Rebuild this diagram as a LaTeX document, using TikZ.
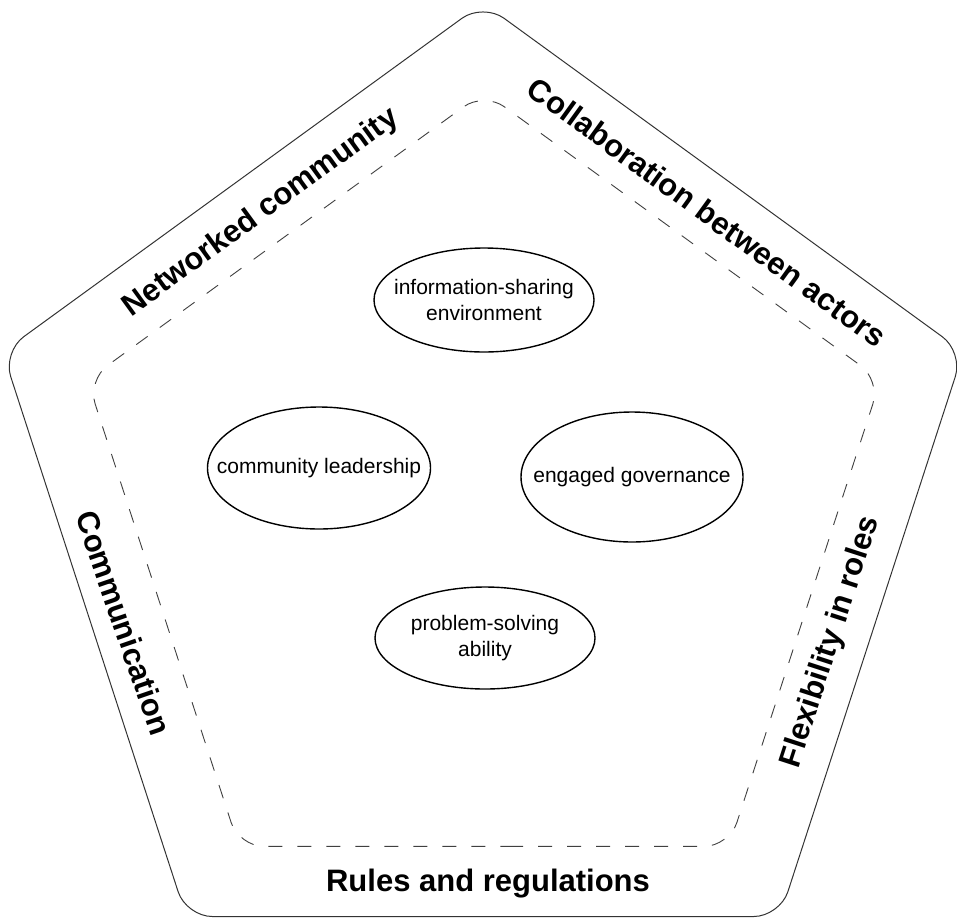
\documentclass[tikz,border=0pt]{standalone}
\usepackage{fontspec}
\setmainfont{Liberation Sans}
\usetikzlibrary{shapes.geometric,calc}
\begin{document}
\begin{tikzpicture}[x=1pt,y=-1pt,
  outerpent/.style={draw=black!80, line width=1pt, rounded corners=26pt},
  innerpent/.style={draw=black!75, line width=0.9pt, dash pattern=on 14pt off 15pt, rounded corners=25pt},
  bandlabel/.style={font=\fontsize{31}{37}\selectfont\bfseries, inner sep=0pt},
  bubble/.style={ellipse, draw=black, line width=1.4pt, inner sep=0pt},
  bubbletext/.style={inner sep=0pt, align=center, font=\fontsize{21}{26}\selectfont},
]
\useasboundingbox (0,0) rectangle (957,918);
% outer pentagon
\coordinate (oT) at (483,3);
\coordinate (oR) at (963.3,352);
\coordinate (oBR) at (779.8,916.5);
\coordinate (oBL) at (186.2,916.5);
\coordinate (oL) at (2.7,352);
\draw[outerpent] ($(oBL)!0.5!(oBR)$) -- (oBR) -- (oR) -- (oT) -- (oL) -- (oBL) -- cycle;
% inner pentagon
\coordinate (iT) at (484,92);
\coordinate (iR) at (880.6,380.1);
\coordinate (iBR) at (729.1,846.4);
\coordinate (iBL) at (238.9,846.4);
\coordinate (iL) at (87.4,380.1);
\draw[innerpent] ($(iBL)!0.5!(iBR)$) -- (iBR) -- (iR) -- (iT) -- (iL) -- (iBL) -- cycle;
% band labels
\node[bandlabel, rotate=36] (net) at (261,213) {Networked community};
\node[bandlabel, rotate=-36] (col) at (707,212) {Collaboration between actors};
\node[bandlabel, rotate=-71] (com) at (124,623) {Communication};
\node[bandlabel, rotate=72] (flex) at (831,642) {Flexibility in roles};
\node[bandlabel] (rules) at (488,884) {Rules and regulations};
% bubbles
\node[bubble, minimum width=220pt, minimum height=104pt] (info) at (484,300) {};
\node[bubbletext] (infoT) at (info) {information-sharing\\environment};
\node[bubble, minimum width=223pt, minimum height=122pt] (lead) at (319,468) {};
\node[bubbletext] (leadT) at (lead) {community leadership};
\node[bubble, minimum width=222pt, minimum height=130pt] (gov) at (632,477) {};
\node[bubbletext] (govT) at (gov) {engaged governance};
\node[bubble, minimum width=220pt, minimum height=102pt] (prob) at (485,638) {};
\node[bubbletext] (probT) at (prob) {problem-solving\\ability};
\end{tikzpicture}
\end{document}
